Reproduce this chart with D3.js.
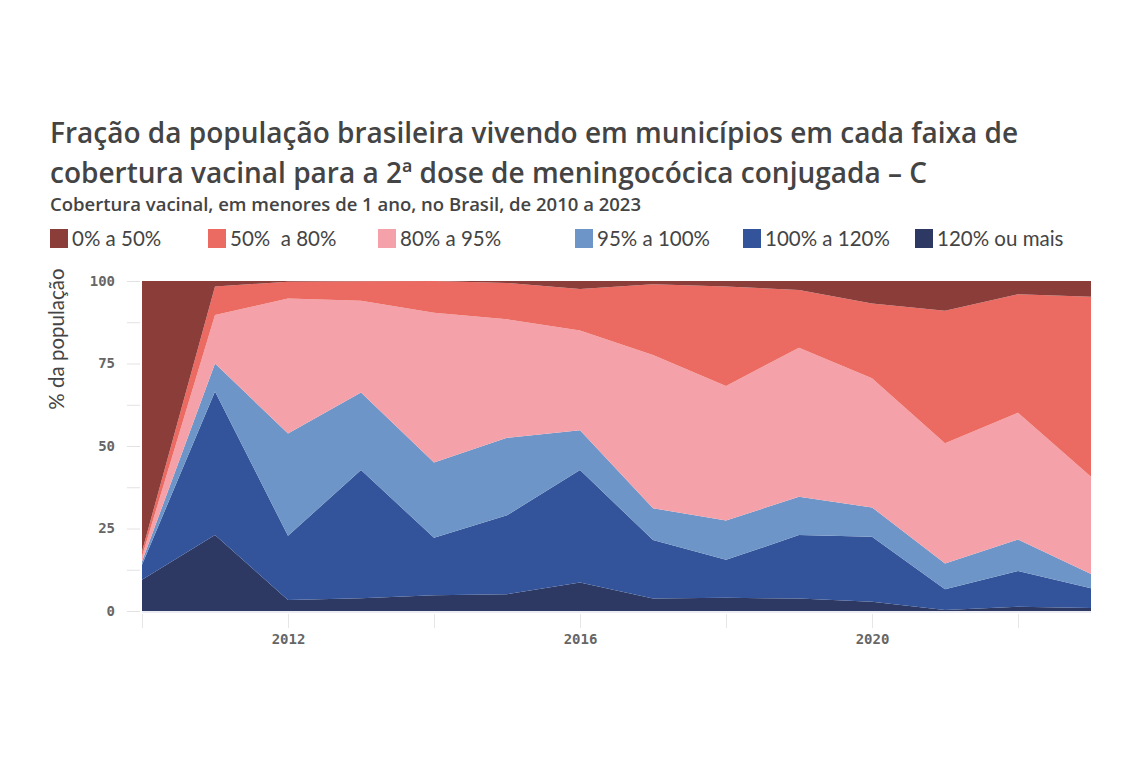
<!DOCTYPE html>
<html>
<head>
<meta charset="utf-8">
<script src="https://cdn.jsdelivr.net/npm/d3@7"></script>
<style>
  body { margin: 0; background: #fff; }
</style>
</head>
<body>
<div id="chart-area"></div>
<script>
const svgWidth = 1140, svgHeight = 760;
const margins = { top: 281, bottom: 149, left: 142, right: 49 };
const chartWidth = svgWidth - margins.left - margins.right;
const chartHeight = svgHeight - margins.top - margins.bottom;

// Data
const years = [2010, 2011, 2012, 2013, 2014, 2015, 2016, 2017, 2018, 2019, 2020, 2021, 2022, 2023];
const faixas = ["120% ou mais", "100% a 120%", "95% a 100%", "80% a 95%", "50%  a 80%", "0% a 50%"];
const v120mais = [9.5, 23.0, 3.3, 3.9, 4.8, 5.1, 8.6, 3.8, 4.0, 3.8, 2.8, 0.3, 1.3, 0.9];
const v100a120 = [4.5, 43.5, 19.5, 38.8, 17.4, 23.9, 34.1, 17.7, 11.5, 19.2, 19.7, 6.3, 10.8, 6.0];
const v95a100 = [1.0, 8.5, 31.0, 23.5, 22.8, 23.5, 12.1, 9.6, 11.9, 11.6, 8.9, 7.8, 9.6, 4.3];
const v80a95 = [1.5, 14.7, 40.9, 27.8, 45.4, 35.9, 30.2, 46.5, 40.8, 45.2, 39.1, 36.4, 38.4, 29.5];
const v50a80 = [1.5, 8.6, 5.1, 5.9, 9.6, 11.0, 12.6, 21.4, 30.1, 17.5, 22.7, 40.2, 35.9, 54.5];
const v0a50 = [82.0, 1.7, 0.2, 0.1, 0.0, 0.6, 2.4, 1.0, 1.7, 2.7, 6.8, 9.0, 4.0, 4.8];
const yTicks = [0, 25, 50, 75, 100];
const xTickLabels = [2012, 2016, 2020];

const colors = {
  "0% a 50%": "#8b3d3a",
  "50%  a 80%": "#eb6b62",
  "80% a 95%": "#f5a1a9",
  "95% a 100%": "#6d95c8",
  "100% a 120%": "#33549a",
  "120% ou mais": "#2d3962"
};
const legendOrder = ["0% a 50%", "50%  a 80%", "80% a 95%", "95% a 100%", "100% a 120%", "120% ou mais"];
const legendX = [50, 208, 378, 575, 743, 915];

const cData = years.map((yr, i) => ({
  year: yr,
  "120% ou mais": v120mais[i],
  "100% a 120%": v100a120[i],
  "95% a 100%": v95a100[i],
  "80% a 95%": v80a95[i],
  "50%  a 80%": v50a80[i],
  "0% a 50%": v0a50[i]
}));

const canvas = d3.select("#chart-area")
  .append("svg")
    .attr("width", svgWidth)
    .attr("height", svgHeight);

const chart = canvas.append("g")
  .attr("transform", `translate(${margins.left},${margins.top})`);

// Title
const title = canvas.append('text')
  .attr('x', 50)
  .attr('y', 143)
  .attr('font-family', 'Open Sans')
  .attr('font-size', 28)
  .attr('font-weight', 600)
  .attr('fill', '#444');
title.append('tspan').text('Fração da população brasileira vivendo em municípios em cada faixa de');
title.append('tspan').attr('x', 50).attr('dy', 40)
  .text('cobertura vacinal para a 2ª dose de meningocócica conjugada – C');

canvas.append('text')
  .text('Cobertura vacinal, em menores de 1 ano, no Brasil, de 2010 a 2023')
  .attr('x', 50)
  .attr('y', 211)
  .attr('font-family', 'Open Sans')
  .attr('font-size', 18.5)
  .attr('font-weight', 600)
  .attr('fill', '#444');

// Legend
const legend = canvas.append('g');
legendOrder.forEach((k, i) => {
  const item = legend.append('g').attr('transform', `translate(${legendX[i]},229)`);
  item.append('rect')
    .attr('width', 18)
    .attr('height', 19)
    .attr('fill', colors[k]);
  item.append('text')
    .text(k)
    .attr('x', 22)
    .attr('y', 17)
    .style('white-space', 'pre')
    .attr('font-family', 'Lato')
    .attr('font-size', 20.5)
    .attr('fill', '#444');
});

// Scales
const x = d3.scaleLinear()
  .domain(d3.extent(years))
  .range([0, chartWidth]);
const y = d3.scaleLinear()
  .domain([0, 100])
  .range([chartHeight, 0]);

// Y axis (ticks every 12.5, labels on the quarter)
const yAxisCall = d3.axisLeft(y)
  .tickValues(d3.range(0, 100.1, 12.5))
  .tickFormat(d => yTicks.includes(d) ? d : "")
  .tickSize(13)
  .tickPadding(12);
const yAxis = canvas.append("g")
  .attr("transform", `translate(${margins.left - 2},${margins.top})`)
  .call(yAxisCall);
yAxis.select(".domain").remove();
yAxis.selectAll("line").attr("stroke", "#e2e2e2");
yAxis.selectAll("text")
  .attr('font-family', 'DejaVu Sans Mono')
  .attr('font-size', 14)
  .attr('font-weight', 700)
  .attr('fill', '#666');

// X axis (ticks every 2 years, labels every 4)
const xAxisCall = d3.axisBottom(x)
  .tickValues(d3.range(2010, 2023, 2))
  .tickFormat(d => xTickLabels.includes(d) ? d : "")
  .tickSize(14)
  .tickPadding(6);
const xAxis = canvas.append("g")
  .attr("transform", `translate(${margins.left},${margins.top + chartHeight + 3})`)
  .call(xAxisCall);
xAxis.select(".domain").remove();
xAxis.selectAll("line").attr("stroke", "#e6e6e6");
xAxis.selectAll("text")
  .attr('font-family', 'DejaVu Sans Mono')
  .attr('font-size', 14)
  .attr('font-weight', 700)
  .attr('fill', '#666');

// Y label
canvas.append('text')
  .text('% da população')
  .attr('transform', 'translate(64,339) rotate(-90)')
  .attr('text-anchor', 'middle')
  .attr('font-family', 'Lato')
  .attr('font-size', 20.5)
  .attr('fill', '#444');

// Stacked areas
const stack = d3.stack().keys(faixas);
const series = stack(cData);
const area = d3.area()
  .x(d => x(d.data.year))
  .y0(d => y(d[0]))
  .y1(d => y(d[1]));

chart.selectAll(".layer")
  .data(series)
  .enter()
  .append("path")
    .attr("class", "layer")
    .attr("fill", d => colors[d.key])
    .attr("d", area);

// baseline
chart.append("line")
  .attr("x1", 0).attr("x2", chartWidth)
  .attr("y1", chartHeight + 1).attr("y2", chartHeight + 1)
  .attr("stroke", "#d8d8e8")
  .attr("stroke-width", 1);
</script>
</body>
</html>
